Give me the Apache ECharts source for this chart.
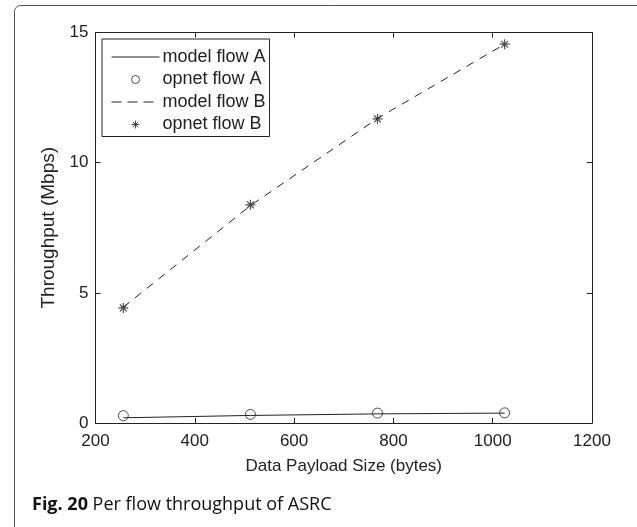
<!doctype html>
<html>
<head>
<meta charset="utf-8">
<script src="https://cdn.jsdelivr.net/npm/echarts@6/dist/echarts.min.js"></script>
<style>
    html, body {margin: 0; padding: 0; background: #fff;}
    #chart {width: 637px; height: 527px;}
</style>
</head>
<body>
<div id="chart"></div>
<script>
    // payload sizes (bytes)
    var payload = [256, 512, 768, 1024];
    var modelA = [0.20, 0.29, 0.35, 0.38];
    var opnetA = [0.28, 0.33, 0.38, 0.39];
    var modelB = [4.45, 8.35, 11.70, 14.55];
    var opnetB = [4.42, 8.38, 11.68, 14.55];
    var xTicks = [200, 400, 600, 800, 1000, 1200];
    var yTicks = [0, 5, 10, 15];

    function pairs(ys) {
        var out = [];
        for (var i = 0; i < payload.length; i++) out.push([payload[i], ys[i]]);
        return out;
    }

    var ink = '#222';
    var star = 'path://M0,5L10,5M5,0L5,10M1.6,1.6L8.4,8.4M1.6,8.4L8.4,1.6';
    var font = '"Liberation Sans", Arial, sans-serif';
    var capFont = '"Open Sans", "Noto Sans", sans-serif';

    var myChart = echarts.init(document.getElementById('chart'), null, {renderer: 'canvas'});

    var axisBase = {
        min: xTicks[0], max: xTicks[xTicks.length - 1], interval: 200,
        axisLine: {show: true, onZero: false, lineStyle: {color: ink, width: 1}},
        axisTick: {show: true, inside: true, length: 5, lineStyle: {color: ink}},
        splitLine: {show: false}
    };
    var noSymbol = {color: 'rgba(0,0,0,0)', borderWidth: 0, opacity: 0};

    var option = {
        animation: false,
        textStyle: {fontFamily: font},
        graphic: [{
            type: 'rect',
            shape: {x: 14.5, y: 5.5, width: 660, height: 600, r: 6},
            style: {fill: 'none', stroke: '#555', lineWidth: 1},
            silent: true
        }],
        title: {
            text: '{b|Fig. 20} Per flow throughput of ASRC',
            left: 27, top: 491,
            textStyle: {
                fontFamily: capFont, fontSize: 18, fontWeight: 'normal', color: '#111',
                rich: {
                    b: {fontFamily: capFont, fontSize: 18, fontWeight: 'bold', color: '#111'}
                }
            }
        },
        grid: {left: 95.5, right: 45, top: 32.5, bottom: 104, containLabel: false},
        legend: {
            orient: 'vertical',
            left: 102, top: 39,
            padding: [8, 4, 2, 9],
            borderColor: ink, borderWidth: 1,
            itemWidth: 48, itemHeight: 8, itemGap: 2.5,
            textStyle: {fontFamily: font, fontSize: 18, color: ink, lineHeight: 20, padding: [0, 0, 0, -2]},
            data: [
                {name: 'model flow A', itemStyle: noSymbol, lineStyle: {width: 1}},
                {name: 'opnet flow A', itemStyle: {borderWidth: 1}},
                {name: 'model flow B', itemStyle: noSymbol, lineStyle: {width: 1, type: [10, 6]}},
                {name: 'opnet flow B', itemStyle: {borderWidth: 1}}
            ]
        },
        xAxis: [
            Object.assign({}, axisBase, {
                type: 'value', position: 'bottom',
                name: 'Data Payload Size (bytes)', nameLocation: 'middle', nameGap: 35,
                nameTextStyle: {fontFamily: font, fontSize: 17, color: '#222'},
                axisLabel: {fontFamily: font, fontSize: 17, color: '#222', margin: 10,
                    formatter: function (v) { return String(v); }}
            }),
            Object.assign({}, axisBase, {
                type: 'value', position: 'top', axisLabel: {show: false}
            })
        ],
        yAxis: [
            {
                type: 'value', position: 'left', min: 0, max: 15, interval: 5,
                name: 'Throughput (Mbps)', nameLocation: 'middle', nameGap: 33,
                nameTextStyle: {fontFamily: font, fontSize: 19, color: '#222'},
                axisLine: {show: true, onZero: false, lineStyle: {color: ink, width: 1}},
                axisTick: {show: true, inside: true, length: 5, lineStyle: {color: ink}},
                axisLabel: {fontFamily: font, fontSize: 17, color: '#222', margin: 7},
                splitLine: {show: false}
            },
            {
                type: 'value', position: 'right', min: 0, max: 15, interval: 5,
                axisLine: {show: true, onZero: false, lineStyle: {color: ink, width: 1}},
                axisTick: {show: true, inside: true, length: 5, lineStyle: {color: ink}},
                axisLabel: {show: false},
                splitLine: {show: false}
            }
        ],
        series: [
            {
                name: 'model flow A', type: 'line', data: pairs(modelA),
                symbol: 'none', lineStyle: {color: ink, width: 1, type: 'solid'},
                itemStyle: {color: ink}
            },
            {
                name: 'opnet flow A', type: 'scatter', data: pairs(opnetA),
                symbol: 'circle', symbolSize: 10,
                itemStyle: {color: 'rgba(0,0,0,0)', borderColor: ink, borderWidth: 1}
            },
            {
                name: 'model flow B', type: 'line', data: pairs(modelB),
                symbol: 'none', lineStyle: {color: ink, width: 1, type: [8, 7]},
                itemStyle: {color: ink}
            },
            {
                name: 'opnet flow B', type: 'scatter', data: pairs(opnetB),
                symbol: star, symbolSize: 10,
                itemStyle: {color: 'none', borderColor: ink, borderWidth: 1.2}
            }
        ]
    };

    myChart.setOption(option, true);
</script>
</body>
</html>
